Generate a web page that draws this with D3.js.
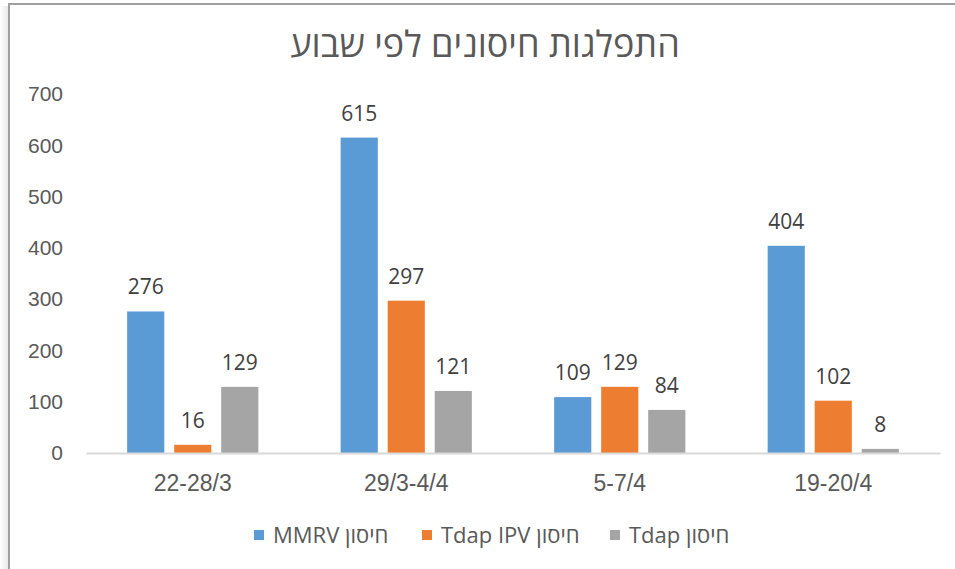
<!DOCTYPE html>
<html lang="he">
<head>
  <meta charset="UTF-8">
  <title>התפלגות חיסונים לפי שבוע</title>
  <style>
    * { margin: 0; padding: 0; }
    body { background: #fff; width: 955px; height: 569px; overflow: hidden; }
    svg { display: block; font-family: "Open Sans", "DejaVu Sans", sans-serif; }
    .tick-y { font-size: 21px; fill: #595959; }
    .tick-x { font-size: 23px; fill: #595959; }
    .value { font-size: 21px; fill: #404040; }
    .legend-text { font-size: 22px; fill: #595959; }
  </style>
  <script src="https://cdn.jsdelivr.net/npm/d3@7/dist/d3.min.js"></script>
</head>
<body>
  <svg id="chart" width="955" height="569"></svg>
  <script>
    const title = 'התפלגות חיסונים לפי שבוע';
    const weeks = ['22-28/3', '29/3-4/4', '5-7/4', '19-20/4'];
    const seriesNames = ['חיסון MMRV', 'חיסון Tdap IPV', 'חיסון Tdap'];
    const mmrv = [276, 615, 109, 404];
    const tdapIpv = [16, 297, 129, 102];
    const tdap = [129, 121, 84, 8];
    const yTicks = [0, 100, 200, 300, 400, 500, 600, 700];
    const colors = ['#5b9bd5', '#ed7d31', '#a5a5a5'];

    const seriesValues = [mmrv, tdapIpv, tdap];
    const rows = weeks.map((w, i) => ({
      week: w,
      values: seriesNames.map((s, j) => ({ series: s, value: seriesValues[j][i] }))
    }));

    const svg = d3.select('#chart');

    // frame with a soft shadow on the left
    const defs = svg.append('defs');
    const grad = defs.append('linearGradient').attr('id', 'shadow').attr('x1', 0).attr('x2', 1);
    grad.append('stop').attr('offset', 0).attr('stop-color', '#fff');
    grad.append('stop').attr('offset', 1).attr('stop-color', '#e6e6e6');
    svg.append('rect').attr('x', 0).attr('y', 6).attr('width', 9).attr('height', 569).attr('fill', 'url(#shadow)');
    svg.append('rect')
      .attr('x', 9).attr('y', 4).attr('width', 980).attr('height', 600)
      .attr('fill', '#fff').attr('stroke', '#a0a0a0').attr('stroke-width', 2);

    const plot = { left: 86, right: 940, top: 94, bottom: 453 };

    const y = d3.scaleLinear().domain([0, 700]).range([plot.bottom, plot.top]);
    const x0 = d3.scaleBand().domain(weeks).range([plot.left, plot.right]);
    const x1 = d3.scaleBand().domain(seriesNames)
      .range([0, x0.bandwidth()]).paddingInner(0.21).paddingOuter(0.875);

    svg.append('text')
      .attr('x', 485).attr('y', 57)
      .attr('text-anchor', 'middle')
      .attr('font-size', 36).attr('fill', '#595959')
      .text(title);

    // y axis labels, no axis line
    const yAxis = svg.append('g')
      .attr('transform', `translate(${plot.left},0)`)
      .call(d3.axisLeft(y).tickValues(yTicks).tickSize(0).tickPadding(23));
    yAxis.select('.domain').remove();
    yAxis.selectAll('text').attr('class', 'tick-y').attr('font-family', null).attr('font-size', null).attr('fill', null);

    // bars
    const groups = svg.append('g').selectAll('g')
      .data(rows).join('g')
      .attr('transform', d => `translate(${x0(d.week)},0)`);

    groups.selectAll('rect')
      .data(d => d.values).join('rect')
      .attr('x', d => x1(d.series))
      .attr('width', x1.bandwidth())
      .attr('y', d => y(d.value))
      .attr('height', d => y(0) - y(d.value))
      .attr('fill', (d, i) => colors[i]);

    groups.selectAll('text')
      .data(d => d.values).join('text')
      .attr('class', 'value')
      .attr('x', d => x1(d.series) + x1.bandwidth() / 2)
      .attr('y', d => y(d.value) - 17)
      .attr('text-anchor', 'middle')
      .text(d => d.value);

    // x axis
    const xAxis = svg.append('g')
      .attr('transform', `translate(0,${plot.bottom})`)
      .call(d3.axisBottom(x0).tickSize(0));
    xAxis.select('.domain').attr('stroke', '#d9d9d9').attr('stroke-width', 2);
    xAxis.selectAll('text').attr('class', 'tick-x').attr('font-family', null).attr('font-size', null).attr('fill', null)
      .attr('y', 38).attr('dy', 0);

    // legend
    const legendX = [254, 422, 610];
    const legend = svg.append('g').selectAll('g')
      .data(seriesNames).join('g')
      .attr('transform', (d, i) => `translate(${legendX[i]},535)`);
    legend.append('rect')
      .attr('x', 0).attr('y', -5).attr('width', 10).attr('height', 10)
      .attr('fill', (d, i) => colors[i]);
    legend.append('text')
      .attr('class', 'legend-text')
      .attr('x', 19).attr('y', 8)
      .attr('direction', 'rtl')
      .attr('text-anchor', 'end')
      .text(d => d);
  </script>
</body>
</html>
